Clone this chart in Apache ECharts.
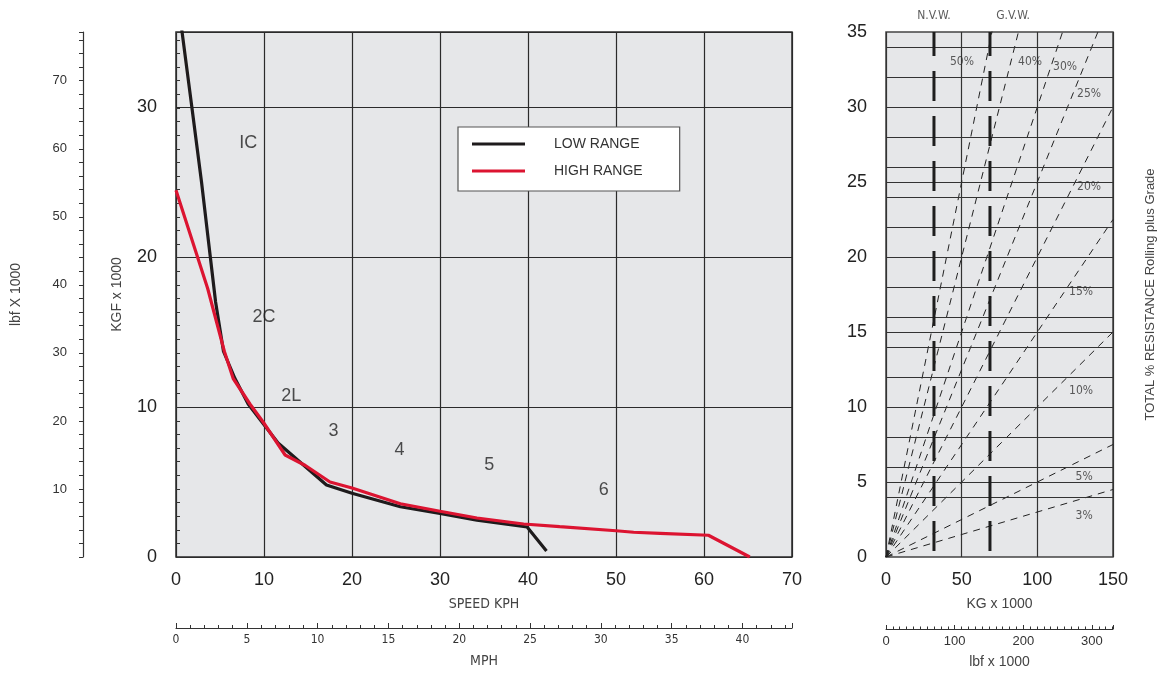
<!DOCTYPE html>
<html><head><meta charset="utf-8">
<script src="https://cdn.jsdelivr.net/npm/echarts@6/dist/echarts.min.js"></script>
<style>html,body{margin:0;padding:0;background:#fff}#c{width:1160px;height:675px}</style>
</head><body><div id="c"></div>
<script>
// ---- data ----
const lowRange = [[0.6,35.4],[1.8,30],[2.9,25],[3.9,20],[4.5,17],[5.4,13.7],[6.7,11.9],[8.2,10.2],[9.9,8.9],[11.6,7.6],[17.1,4.8],[20,4.25],[25.5,3.35],[30,2.9],[34.2,2.45],[39.9,2.0],[42.1,0.4]];
const highRange = [[0,24.45],[3.6,17.9],[5.5,13.7],[6.5,11.9],[8.4,10.2],[9.9,9.0],[12.4,6.8],[14.7,6.1],[17.5,5.0],[20,4.6],[25.5,3.55],[30,3.05],[34.2,2.6],[39.5,2.2],[43.6,2.02],[50,1.75],[52,1.65],[55,1.58],[60.5,1.45],[65.2,0]];
const gearLabels = ['IC','2C','2L','3','4','5','6'];
const gearX = [8.2,10,13.1,17.9,25.4,35.6,48.6];
const gearY = [27.6,16.0,10.7,8.4,7.1,6.1,4.45];
const grades = [50,40,30,25,20,15,10,5,3];
const gradeLabelX = [50.2,95.2,118.3,134.2,134.2,128.9,128.9,130.9,130.9];
const gradeLabelY = [33.0,33.0,32.7,30.9,24.7,17.7,11.06,5.33,2.73];
const weightNames = ['N.V.W.','G.V.W.'];
const weightX = [31.7,68.7];
const weightLabelX = [31.7,84];
const resistanceLines = [4,5,6,8,10,12,14,15,16,18,20,22,24,25,26,28,30,32,34];
const KGF_TO_LBF = 2.20462;
const KPH_PER_MPH = 1.609344;

const FONT = 'Liberation Sans, Arial, sans-serif';
const NARROW = 'Liberation Sans Narrow, DejaVu Sans Condensed, sans-serif';
const GRIDC = '#2b2b2b';
const BG = '#e6e7e9';

const chart = echarts.init(document.getElementById('c'), null, {renderer:'canvas'});

const series = [];
series.push({name:'LOW RANGE', type:'line', xAxisIndex:0, yAxisIndex:0, data:lowRange, symbol:'none', clip:true,
  lineStyle:{color:'#1e1b1c', width:3.2}, itemStyle:{color:'#1e1b1c'}, z:5});
series.push({name:'HIGH RANGE', type:'line', xAxisIndex:0, yAxisIndex:0, data:highRange, symbol:'none', clip:true,
  lineStyle:{color:'#dc1431', width:3.2}, itemStyle:{color:'#dc1431'}, z:6});
series.push({type:'scatter', xAxisIndex:0, yAxisIndex:0, symbolSize:0, silent:true,
  data:gearLabels.map((t,i)=>({value:[gearX[i],gearY[i]], name:t})),
  label:{show:true, position:'inside', formatter:p=>p.name, fontSize:18, color:'#222', fontFamily:FONT}});

// right chart
grades.forEach(g=>{
  series.push({type:'line', xAxisIndex:2, yAxisIndex:3, symbol:'none', silent:true, clip:true,
    data:[[0,0],[150,150*g/100]], lineStyle:{color:'#222', width:1, type:[7,6]}, z:3});
});
series.push({type:'scatter', xAxisIndex:2, yAxisIndex:3, symbolSize:0, silent:true,
  data:grades.map((g,i)=>({value:[gradeLabelX[i],gradeLabelY[i]], name:g+'%'})),
  label:{show:true, position:'inside', formatter:p=>p.name, fontSize:12, color:'#333', fontFamily:NARROW},
  markLine:{silent:true, symbol:'none', label:{show:false}, animation:false,
    lineStyle:{color:'#333', width:1, type:'solid'},
    data:resistanceLines.map(v=>({yAxis:v}))}, z:4});
weightX.forEach(x=>{
  series.push({type:'line', xAxisIndex:2, yAxisIndex:3, symbol:'none', silent:true,
    data:[[x,0],[x,35]], lineStyle:{color:'#1e1e1e', width:3, type:[30,15], dashOffset:39}, z:5});
});
series.push({type:'scatter', xAxisIndex:2, yAxisIndex:3, symbolSize:0, silent:true, clip:false,
  data:weightNames.map((t,i)=>({value:[weightLabelX[i],35], name:t})),
  label:{show:true, position:'top', distance:10, formatter:p=>p.name, fontSize:12, color:'#333', fontFamily:NARROW}});

const option = {
  backgroundColor:'#fff',
  animation:false,
  textStyle:{fontFamily:FONT},
  grid:[
    {left:176, top:32, width:616, height:525, show:true, backgroundColor:BG, borderColor:GRIDC, borderWidth:1.5, outerBoundsMode:'none', containLabel:false},
    {left:886, top:32, width:227, height:525, show:true, backgroundColor:BG, borderColor:'#444', borderWidth:1.5, outerBoundsMode:'none', containLabel:false}
  ],
  legend:{orient:'vertical', left:458, top:127,
    data:[{name:'LOW RANGE', icon:'rect', itemStyle:{color:'#1e1b1c'}}, {name:'HIGH RANGE', icon:'rect', itemStyle:{color:'#dc1431'}}],
    backgroundColor:'#fff', borderColor:'#555', borderWidth:1.2, padding:[9,37,12,14],
    itemWidth:53, itemHeight:3, itemGap:11,
    textStyle:{fontSize:14, color:'#333', fontFamily:FONT, padding:[0,0,0,24], lineHeight:16}},
  xAxis:[
    {gridIndex:0, type:'value', min:0, max:70, interval:10, name:'SPEED KPH', nameLocation:'middle', nameGap:40,
      nameTextStyle:{fontSize:14, color:'#444', fontFamily:NARROW},
      axisLine:{show:false}, axisTick:{show:false},
      axisLabel:{fontSize:18, color:'#222', margin:14},
      splitLine:{show:true, lineStyle:{color:GRIDC, width:1.2}}},
    {gridIndex:0, type:'value', position:'bottom', offset:71, min:0, max:70/KPH_PER_MPH, interval:5,
      name:'MPH', nameLocation:'middle', nameGap:26, nameTextStyle:{fontSize:14, color:'#444', fontFamily:NARROW},
      axisLine:{show:true, onZero:false, lineStyle:{color:'#333', width:1.2}},
      axisTick:{show:true, inside:true, length:5, lineStyle:{color:'#333'}},
      minorTick:{show:true, splitNumber:5, length:3, lineStyle:{color:'#333'}},
      axisLabel:{fontSize:12, color:'#333', margin:6, showMaxLabel:false, fontFamily:NARROW},
      splitLine:{show:false}},
    {gridIndex:1, type:'value', min:0, max:150, interval:50, name:'KG x 1000', nameLocation:'middle', nameGap:40,
      nameTextStyle:{fontSize:14, color:'#444', fontFamily:FONT},
      axisLine:{show:false}, axisTick:{show:false},
      axisLabel:{fontSize:18, color:'#222', margin:14},
      splitLine:{show:true, lineStyle:{color:'#333', width:1.2}}},
    {gridIndex:1, type:'value', position:'bottom', offset:72, min:0, max:150*KGF_TO_LBF, interval:100,
      name:'lbf x 1000', nameLocation:'middle', nameGap:26, nameTextStyle:{fontSize:14, color:'#444', fontFamily:FONT},
      axisLine:{show:true, onZero:false, lineStyle:{color:'#333', width:1}},
      axisTick:{show:true, inside:true, length:4, lineStyle:{color:'#333'}},
      minorTick:{show:true, splitNumber:10, length:2.5, lineStyle:{color:'#333'}},
      axisLabel:{fontSize:13, color:'#333', margin:6, showMaxLabel:false},
      splitLine:{show:false}}
  ],
  yAxis:[
    {gridIndex:0, type:'value', min:0, max:35, interval:10, name:'KGF x 1000', nameLocation:'middle', nameGap:52, nameRotate:90,
      nameTextStyle:{fontSize:14, color:'#444'},
      axisLine:{show:false}, axisTick:{show:false},
      axisLabel:{fontSize:18, color:'#222', margin:19, showMaxLabel:false},
      splitLine:{show:true, lineStyle:{color:GRIDC, width:1.2}}},
    {gridIndex:0, type:'value', position:'left', offset:93, min:0, max:35*KGF_TO_LBF, interval:10,
      name:'lbf X 1000', nameLocation:'middle', nameGap:60, nameRotate:90, nameTextStyle:{fontSize:14, color:'#444'},
      axisLine:{show:true, onZero:false, lineStyle:{color:'#333', width:1.2}},
      axisTick:{show:true, length:4, lineStyle:{color:'#333'}},
      minorTick:{show:true, splitNumber:5, length:4, lineStyle:{color:'#333'}},
      axisLabel:{fontSize:13, color:'#333', margin:16, showMaxLabel:false, showMinLabel:false},
      splitLine:{show:false}},
    {gridIndex:0, type:'value', position:'left', offset:93, min:0, max:35*KGF_TO_LBF, interval:10,
      axisLine:{show:false},
      axisTick:{show:true, inside:true, length:4, lineStyle:{color:'#333'}},
      minorTick:{show:true, splitNumber:5, length:4, lineStyle:{color:'#333'}},
      axisLabel:{show:false}, splitLine:{show:false}},
    {gridIndex:1, type:'value', min:0, max:35, interval:5,
      axisLine:{show:false}, axisTick:{show:false},
      axisLabel:{fontSize:18, color:'#222', margin:19},
      splitLine:{show:false}},
    {gridIndex:1, type:'value', position:'right', min:0, max:35, interval:5,
      name:'TOTAL % RESISTANCE Rolling plus Grade', nameLocation:'middle', nameGap:31, nameRotate:90,
      nameTextStyle:{fontSize:13, color:'#444'},
      axisLine:{show:false}, axisTick:{show:false}, axisLabel:{show:false}, splitLine:{show:false}}
  ],
  series
};
chart.setOption(option);
</script></body></html>
